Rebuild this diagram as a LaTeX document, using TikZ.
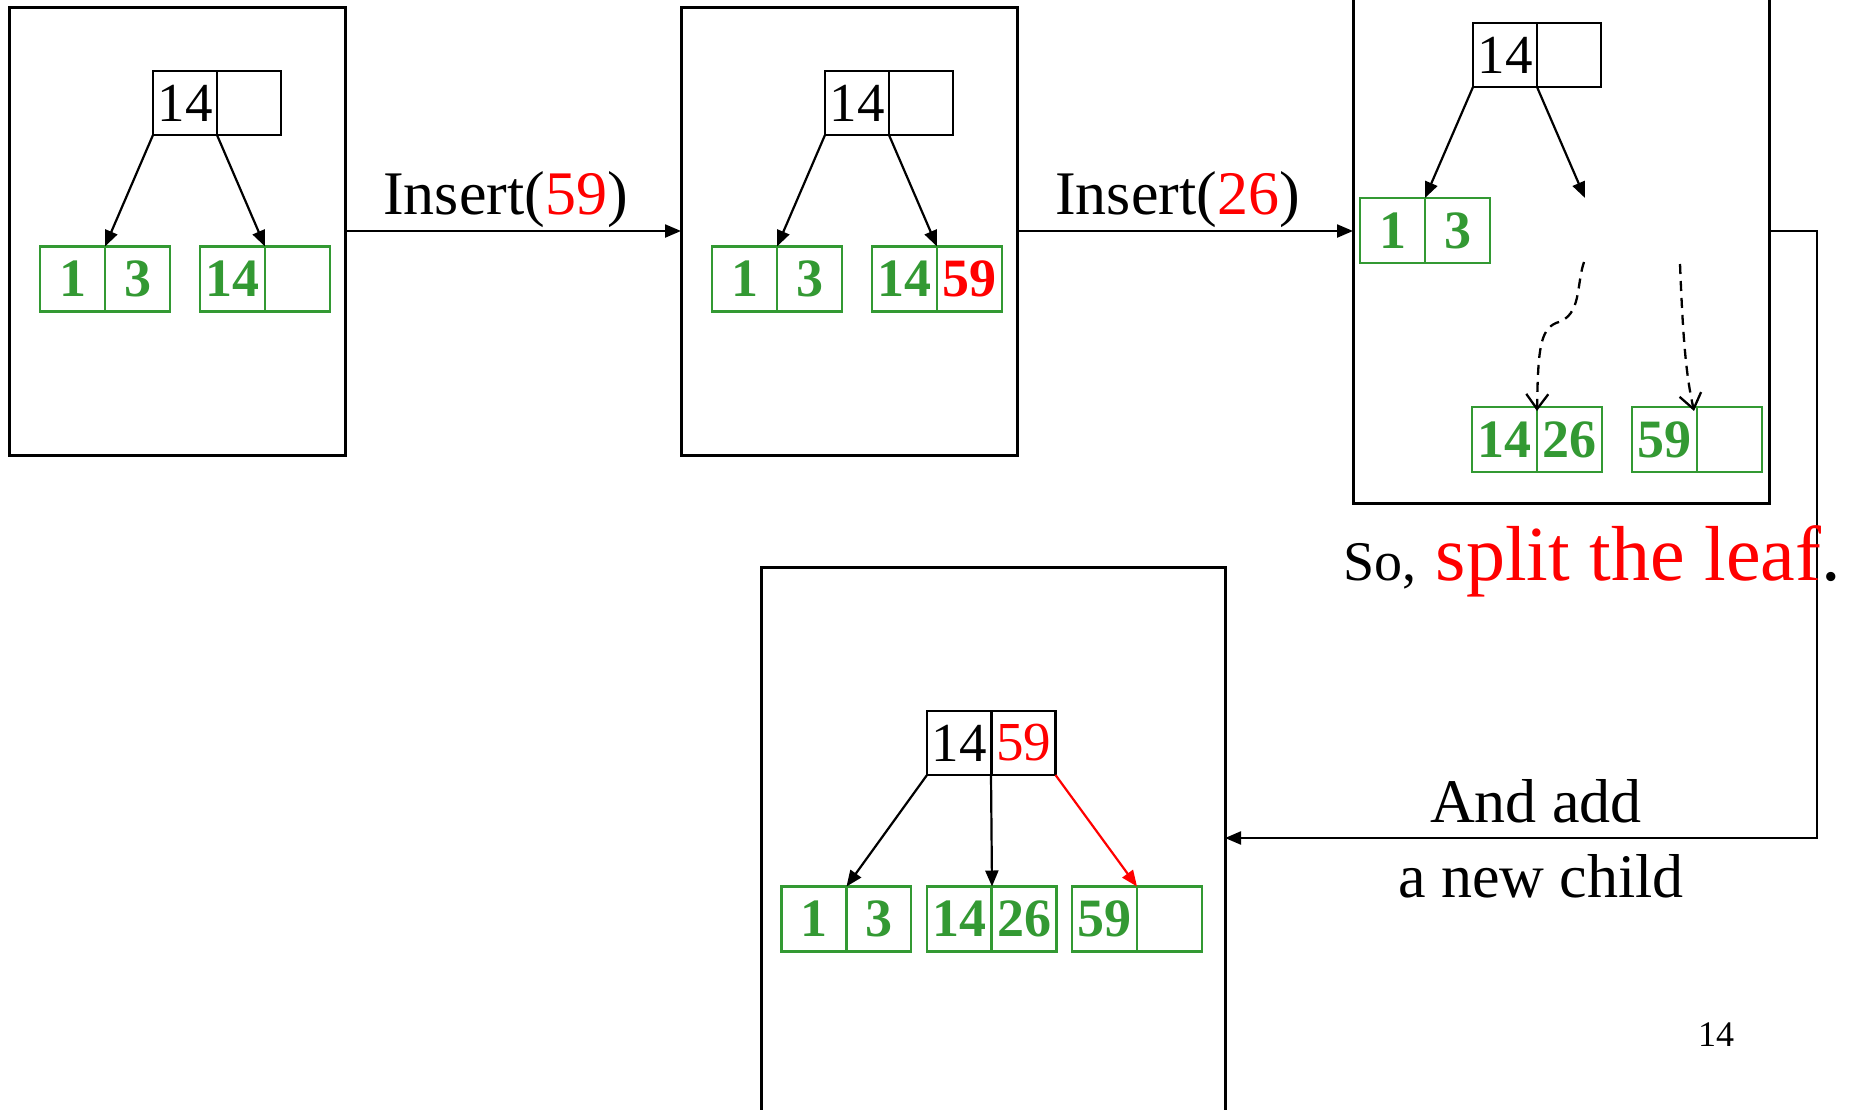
\documentclass[tikz,border=0pt]{standalone}
\usepackage{fontspec}
\setmainfont{Liberation Serif}
\usetikzlibrary{arrows.meta}
\definecolor{leafgreen}{RGB}{51,153,51}
\definecolor{keyred}{RGB}{255,0,0}

\begin{document}
\begin{tikzpicture}[x=1pt,y=-1pt,
  frame/.style={draw,line width=3pt,inner sep=0pt,outer sep=0pt},
  inner/.style={draw,line width=2.5pt,minimum width=64pt,minimum height=64pt,
    inner sep=0pt,outer sep=0pt,font=\fontsize{55}{55}\selectfont},
  leaf/.style={draw=leafgreen,line width=2.8pt,minimum width=65pt,minimum height=65pt,
    inner sep=0pt,outer sep=0pt,text=leafgreen,font=\fontsize{54}{54}\selectfont\bfseries},
  link/.style={line width=2.2pt,-{Triangle[length=16pt,width=13pt]}},
  hint/.style={line width=2.3pt,dash pattern=on 10pt off 7pt,
    -{Straight Barb[length=15pt,width=22pt,line width=2.3pt]}},
  caption/.style={inner sep=0pt,anchor=base,font=\fontsize{62}{75}\selectfont}]

\useasboundingbox (0,0) rectangle (1860,1109);
\clip (0,0) rectangle (1860,1109);

% frames of the four stages
\node[frame,minimum width=336pt,minimum height=448pt] (f1) at (177,231) {};
\node[frame,minimum width=336pt,minimum height=448pt] (f2) at (849,231) {};
\node[frame,minimum width=416pt,minimum height=544pt] (f3) at (1561,231) {};
\node[frame,minimum width=464pt,minimum height=633pt] (f4) at (993,883.5) {};

% stage 1
\node[inner] (a1) at (185,103) {14};
\node[inner] (a2) at (249,103) {};
\node[leaf] (a3) at (72.5,279) {1};
\node[leaf] (a4) at (137.5,279) {3};
\node[leaf] (a5) at (232.5,279) {14};
\node[leaf] (a6) at (297.5,279) {};
\draw[link] (a1.south west) -- (a3.north east);
\draw[link] (a1.south east) -- (a5.north east);

% stage 2
\node[inner] (b1) at (857,103) {14};
\node[inner] (b2) at (921,103) {};
\node[leaf] (b3) at (744.5,279) {1};
\node[leaf] (b4) at (809.5,279) {3};
\node[leaf] (b5) at (904.5,279) {14};
\node[leaf,text=keyred] (b6) at (969.5,279) {59};
\draw[link] (b1.south west) -- (b3.north east);
\draw[link] (b1.south east) -- (b5.north east);

% stage 3
\node[inner] (c1) at (1505,55) {14};
\node[inner] (c2) at (1569,55) {};
\node[leaf] (c3) at (1392.5,230.5) {1};
\node[leaf] (c4) at (1457.5,230.5) {3};
\node[leaf] (c5) at (1504.5,439.5) {14};
\node[leaf] (c6) at (1569.5,439.5) {26};
\node[leaf] (c7) at (1664.5,439.5) {59};
\node[leaf] (c8) at (1729.5,439.5) {};
\coordinate (gap) at (1585,198);
\coordinate (drop1) at (1584,262);
\coordinate (drop2) at (1680,264);
\draw[link] (c1.south west) -- (c3.north east);
\draw[link] (c1.south east) -- (gap);
\draw[hint] (drop1) .. controls (1576,285) and (1582,316) .. (1556,323)
  .. controls (1540,330) and (1538,350) .. ([yshift=-4pt]c5.north east);
\draw[hint] (drop2) .. controls (1683,340) and (1686,375) .. ([xshift=-3pt,yshift=-4pt]c7.north east);

% stage 4
\node[inner] (d1) at (959,743) {14};
\node[inner,text=keyred] (d2) at (1023.5,743) {59};
\node[leaf] (d3) at (814,919) {1};
\node[leaf] (d4) at (878.5,919) {3};
\node[leaf] (d5) at (959.5,919) {14};
\node[leaf] (d6) at (1024,919) {26};
\node[leaf] (d7) at (1104.5,919) {59};
\node[leaf] (d8) at (1169.5,919) {};
\draw[link] (d1.south west) -- (d3.north east);
\draw[link] (d1.south east) -- (d5.north east);
\draw[link,keyred] (d2.south east) -- (d7.north east);

% transitions between stages
\draw[link] (f1.east) -- (f2.west);
\draw[link] (f2.east) -- (f3.west);
\coordinate (turn) at (1817,838);
\draw[link] (f3.east) -| (turn) -- (turn -| f4.east);

% captions
\node[caption] (ins1) at (505.5,214) {Insert(\textcolor{keyred}{59})};
\node[caption] (ins2) at (1177.5,214) {Insert(\textcolor{keyred}{26})};
\node[caption,anchor=base west] (split) at (1343,580)
  {{\fontsize{56}{60}\selectfont So,}\fontsize{78}{80}\selectfont\ \textcolor{keyred}{split the leaf}.};
\node[caption] (add1) at (1536,822) {And add};
\node[caption] (add2) at (1541,897) {a new child};
\node[caption,font=\fontsize{36}{36}\selectfont] (page) at (1716,1046) {14};
\end{tikzpicture}
\end{document}
